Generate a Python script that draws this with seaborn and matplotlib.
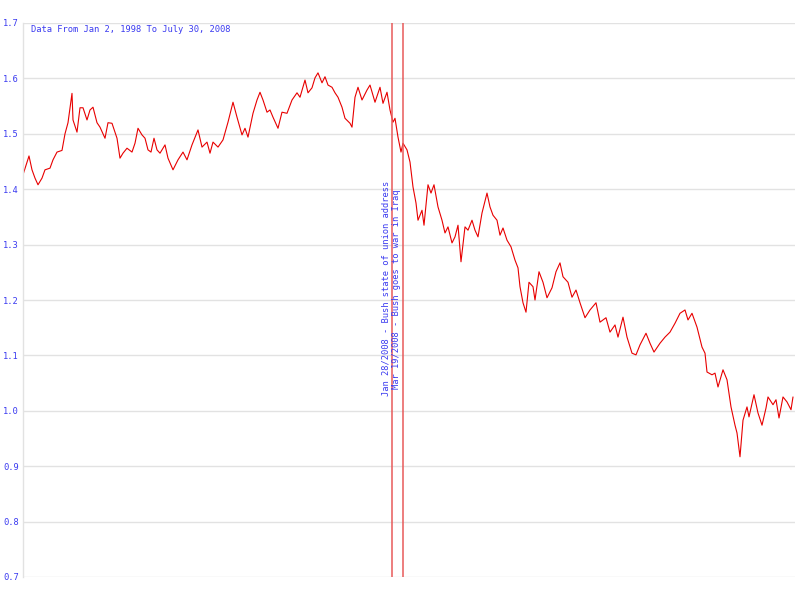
#!/usr/bin/env python3
"""Daily rate chart, Jan 1998 - Jul 2008, with two event markers."""

import matplotlib
matplotlib.use("Agg")
import matplotlib.pyplot as plt
import pandas as pd
import seaborn as sns

# sample index (roughly every 3.5 trading days) and rate
obs = [0, 6, 9, 12, 15, 19, 22, 27, 30, 34, 39, 42, 45, 49, 50, 54, 57, 60, 64, 67,
       70, 74, 77, 82, 85, 89, 94, 97, 100, 104, 109, 112, 115, 119, 122, 125, 128, 131, 134, 137,
       142, 145, 150, 155, 160, 164, 169, 175, 179, 184, 187, 190, 195, 200, 205, 210, 214, 219, 222, 225,
       230, 234, 237, 240, 244, 247, 250, 255, 259, 264, 269, 274, 277, 282, 285, 289, 292, 295, 299, 302,
       305, 309, 312, 315, 319, 322, 327, 329, 332, 335, 339, 344, 347, 352, 357, 360, 364, 367, 370, 372,
       375, 378, 380, 384, 387, 390, 393, 395, 399, 401, 405, 408, 411, 415, 419, 422, 425, 429, 432, 435,
       438, 442, 445, 449, 452, 455, 459, 464, 467, 470, 474, 477, 480, 484, 488, 492, 495, 497, 500, 503,
       506, 510, 512, 516, 520, 524, 529, 533, 537, 540, 545, 549, 553, 557, 562, 567, 573, 577, 583, 587,
       592, 595, 600, 604, 609, 613, 617, 623, 627, 631, 637, 642, 647, 652, 657, 662, 665, 669, 674, 679,
       682, 684, 689, 692, 695, 700, 704, 708, 712, 714, 717, 720, 724, 726, 731, 735, 739, 743, 745, 750,
       753, 756, 760, 764, 768, 770]
rate = [1.426, 1.460, 1.435, 1.420, 1.408, 1.420, 1.435, 1.438, 1.453, 1.467, 1.470, 1.500, 1.520, 1.573, 1.525, 1.503, 1.547, 1.547, 1.525, 1.543,
        1.548, 1.520, 1.512, 1.492, 1.520, 1.519, 1.492, 1.456, 1.465, 1.474, 1.467, 1.483, 1.510, 1.498, 1.492, 1.471, 1.467, 1.492, 1.471, 1.465,
        1.480, 1.456, 1.435, 1.453, 1.467, 1.453, 1.480, 1.507, 1.476, 1.485, 1.465, 1.485, 1.476, 1.489, 1.521, 1.557, 1.530, 1.498, 1.510, 1.494,
        1.537, 1.561, 1.575, 1.561, 1.539, 1.543, 1.530, 1.510, 1.539, 1.537, 1.561, 1.574, 1.566, 1.597, 1.574, 1.583, 1.601, 1.610, 1.592, 1.603,
        1.588, 1.584, 1.574, 1.566, 1.548, 1.528, 1.519, 1.512, 1.566, 1.584, 1.561, 1.579, 1.588, 1.557, 1.584, 1.555, 1.575, 1.543, 1.521, 1.528,
        1.494, 1.467, 1.483, 1.471, 1.449, 1.404, 1.375, 1.344, 1.362, 1.335, 1.408, 1.393, 1.408, 1.368, 1.344, 1.321, 1.332, 1.303, 1.314, 1.335,
        1.269, 1.332, 1.326, 1.344, 1.326, 1.314, 1.357, 1.393, 1.368, 1.353, 1.344, 1.317, 1.330, 1.308, 1.296, 1.272, 1.258, 1.224, 1.195, 1.178,
        1.232, 1.224, 1.200, 1.251, 1.232, 1.204, 1.222, 1.251, 1.267, 1.242, 1.232, 1.205, 1.218, 1.195, 1.168, 1.182, 1.195, 1.160, 1.168, 1.142,
        1.155, 1.133, 1.169, 1.133, 1.104, 1.101, 1.119, 1.140, 1.122, 1.106, 1.122, 1.133, 1.142, 1.158, 1.176, 1.182, 1.164, 1.176, 1.151, 1.115,
        1.104, 1.070, 1.065, 1.068, 1.043, 1.074, 1.056, 1.007, 0.974, 0.960, 0.917, 0.983, 1.007, 0.989, 1.029, 0.996, 0.974, 1.005, 1.025, 1.011,
        1.020, 0.987, 1.025, 1.016, 1.002, 1.025]

events_obs = [369, 380]
events_text = ["Jan 28/2008 - Bush state of union address",
               "Mar 19/2008 - Bush goes to war in Iraq"]
events_base = [1.027, 1.039]

title_text = "Data From Jan 2, 1998 To July 30, 2008"
yticks = [0.7, 0.8, 0.9, 1.0, 1.1, 1.2, 1.3, 1.4, 1.5, 1.6, 1.7]

BLUE = "#3a3af0"
RED = "#e80000"
MONO = ["DejaVu Sans Mono"]

sns.set_style("white")

df = pd.DataFrame({"obs": obs, "rate": rate})

fig = plt.figure(figsize=(8, 5.99), dpi=100)
ax = fig.add_axes([23 / 800, 1 - 577 / 599, 772 / 800, 554 / 599])

sns.lineplot(data=df, x="obs", y="rate", color=RED, linewidth=0.8, ax=ax)

for xo in events_obs:
    ax.axvline(xo, color="#e85a5a", linewidth=1.1, zorder=3)

for xo, txt, yb in zip(events_obs, events_text, events_base):
    ax.annotate(txt, xy=(xo, yb), xytext=(-1.2, 0), textcoords="offset points",
                rotation=90, ha="right", va="bottom", color=BLUE,
                fontsize=6.3, family=MONO)

ax.text(0.011, 0.989, title_text, transform=ax.transAxes, ha="left", va="center",
        color=BLUE, fontsize=6.3, family=MONO)

ax.set_xlim(0, 772)
ax.set_ylim(0.7, 1.7)
ax.set_yticks(yticks)
ax.set_yticklabels([f"{v:.1f}" for v in yticks], color=BLUE, fontsize=6.3, family=MONO)
ax.set_xticks([])
ax.set_xlabel("")
ax.set_ylabel("")
ax.yaxis.grid(True, color="#e2e2e2", linewidth=1)
ax.tick_params(axis="y", length=2, color="#dddddd", pad=1)
for side in ["top", "right", "bottom"]:
    ax.spines[side].set_visible(False)
ax.spines["left"].set_color("#e2e2e2")
ax.spines["left"].set_linewidth(1)

fig.savefig("out.png", dpi=100)
plt.close(fig)
